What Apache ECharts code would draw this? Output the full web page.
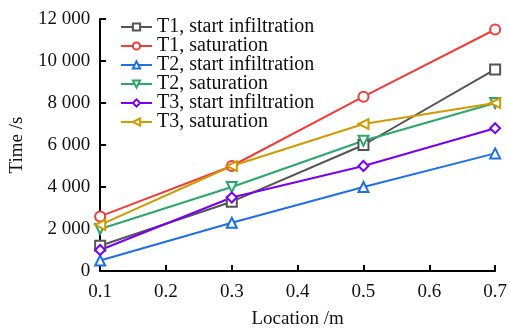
<!DOCTYPE html>
<html><head><meta charset="utf-8">
<script src="https://cdn.jsdelivr.net/npm/echarts@6/dist/echarts.min.js"></script>
<style>html,body{margin:0;padding:0;background:#fff}#c{width:510px;height:334px}</style>
</head><body><div id="c"></div>
<script>
const locations = [0.1, 0.3, 0.5, 0.7];
const seriesNames = ['T1, start infiltration','T1, saturation','T2, start infiltration','T2, saturation','T3, start infiltration','T3, saturation'];
const t1Start = [1200, 3300, 6000, 9600];
const t1Sat = [2600, 5000, 8300, 11500];
const t2Start = [500, 2300, 4000, 5600];
const t2Sat = [2000, 4000, 6200, 8000];
const t3Start = [1000, 3500, 5000, 6800];
const t3Sat = [2200, 5000, 7000, 8000];
const allValues = [t1Start, t1Sat, t2Start, t2Sat, t3Start, t3Sat];
const colors = ['#555555','#f23b3b','#1f6fe6','#2aa86a','#7a00f5','#d09a00'];
const symbols = ['rect','circle','triangle','triangle','diamond','triangle'];
const rotations = [0,0,0,180,0,90];
const font = 'Liberation Serif';
const chart = echarts.init(document.getElementById('c'));
chart.setOption({
  animation: false,
  textStyle: {fontFamily: font},
  grid: {left: 99, right: 13, top: 19, bottom: 61},
  legend: {
    left: 115, top: 12, orient: 'vertical', itemGap: -1, itemWidth: 31, itemHeight: 9,
    textStyle: {fontFamily: font, fontSize: 20, color: '#111'},
    data: seriesNames
  },
  xAxis: {
    type: 'value', min: 0.1, max: 0.7, interval: 0.1,
    name: 'Location /m', nameLocation: 'middle', nameGap: 39,
    nameTextStyle: {fontFamily: font, fontSize: 19, color: '#111'},
    axisLine: {lineStyle: {color: '#000', width: 2}},
    axisTick: {inside: true, length: 6, lineStyle: {color: '#000', width: 2}},
    axisLabel: {fontFamily: font, fontSize: 19, color: '#111', margin: 12, formatter: v => v.toFixed(1)},
    splitLine: {show: false}
  },
  yAxis: {
    type: 'value', min: 0, max: 12000, interval: 2000,
    name: 'Time /s', nameLocation: 'middle', nameGap: 70,
    nameTextStyle: {fontFamily: font, fontSize: 19, color: '#111'},
    axisLine: {show: true, lineStyle: {color: '#000', width: 2}},
    axisTick: {show: true, inside: true, length: 6, lineStyle: {color: '#000', width: 2}},
    axisLabel: {fontFamily: font, fontSize: 19, color: '#111', margin: 10,
      formatter: v => String(v).replace(/\B(?=(\d{3})+(?!\d))/g, ' ')},
    splitLine: {show: false}
  },
  series: seriesNames.map((n, i) => ({
    name: n, type: 'line',
    data: locations.map((x, j) => [x, allValues[i][j]]),
    symbol: symbols[i], symbolSize: 10, symbolRotate: rotations[i],
    lineStyle: {color: colors[i], width: 2},
    itemStyle: {color: '#fff', borderColor: colors[i], borderWidth: 2},
    color: colors[i]
  }))
});
</script></body></html>
